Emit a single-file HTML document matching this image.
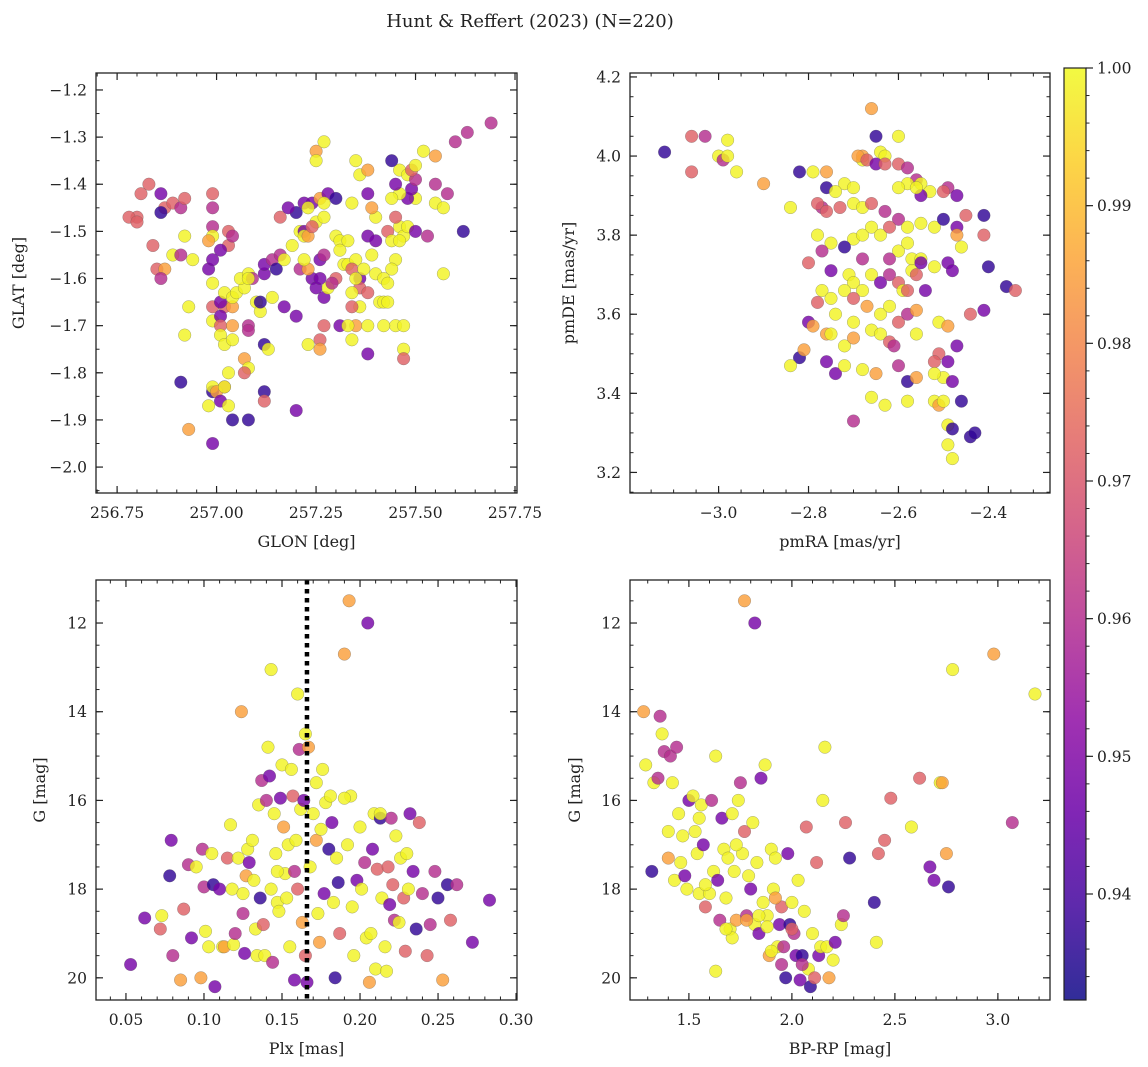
<!DOCTYPE html>
<html><head><meta charset="utf-8">
<style>
html,body{margin:0;padding:0;background:#fff;}
svg{display:block;font-family:"DejaVu Serif","Liberation Serif",serif;}
</style></head>
<body>
<svg id="fig" width="1148" height="1067" viewBox="0 0 1148 1067">
<text x="530" y="27" font-size="18" text-anchor="middle" fill="#222">Hunt &amp; Reffert (2023) (N=220)</text>
</svg>
<script>
// membership probability per colour class
const probClasses = {Y:0.999, O:0.985, P:0.972, M:0.960, V:0.948, D:0.937};
const cbMin = 0.9323, cbMax = 1.0;
const cbTicks = [0.94,0.95,0.96,0.97,0.98,0.99,1.00];

const p1Points = [[256.80,-1.47,'P'],[256.81,-1.42,'P'],[256.83,-1.40,'P'],[256.78,-1.47,'P'],[256.80,-1.48,'P'],[256.86,-1.42,'V'],[256.87,-1.45,'P'],[256.86,-1.46,'D'],[256.89,-1.44,'P'],[256.91,-1.45,'M'],[256.92,-1.43,'P'],[256.99,-1.42,'P'],[256.99,-1.45,'M'],[256.84,-1.53,'P'],[256.85,-1.58,'P'],[256.87,-1.58,'O'],[256.86,-1.60,'M'],[256.92,-1.51,'Y'],[256.89,-1.55,'Y'],[256.91,-1.55,'M'],[256.94,-1.56,'Y'],[256.99,-1.49,'M'],[256.99,-1.51,'Y'],[256.98,-1.52,'O'],[256.98,-1.58,'V'],[256.99,-1.56,'V'],[257.03,-1.50,'P'],[257.03,-1.53,'P'],[257.01,-1.54,'V'],[257.04,-1.51,'M'],[256.99,-1.61,'Y'],[256.93,-1.66,'Y'],[256.99,-1.66,'P'],[257.02,-1.66,'P'],[257.04,-1.66,'O'],[257.01,-1.65,'V'],[257.02,-1.63,'Y'],[257.04,-1.64,'Y'],[257.05,-1.63,'Y'],[257.07,-1.62,'Y'],[257.06,-1.60,'Y'],[257.08,-1.59,'Y'],[257.09,-1.60,'M'],[257.12,-1.59,'V'],[256.92,-1.72,'Y'],[256.99,-1.69,'Y'],[257.01,-1.68,'V'],[257.01,-1.70,'P'],[257.04,-1.70,'O'],[257.01,-1.72,'Y'],[257.02,-1.74,'Y'],[257.04,-1.73,'Y'],[257.10,-1.65,'Y'],[257.08,-1.70,'M'],[257.08,-1.71,'M'],[257.11,-1.67,'Y'],[257.11,-1.65,'D'],[257.12,-1.74,'D'],[257.14,-1.64,'Y'],[257.13,-1.75,'Y'],[257.07,-1.77,'O'],[257.08,-1.79,'Y'],[257.07,-1.80,'P'],[257.02,-1.83,'P'],[256.91,-1.82,'D'],[256.99,-1.84,'D'],[256.99,-1.83,'Y'],[257.00,-1.84,'O'],[257.01,-1.86,'V'],[257.02,-1.83,'Y'],[257.03,-1.87,'Y'],[257.03,-1.80,'Y'],[257.12,-1.84,'D'],[257.12,-1.86,'P'],[257.20,-1.88,'V'],[257.04,-1.90,'D'],[257.08,-1.90,'D'],[256.93,-1.92,'O'],[256.99,-1.95,'V'],[256.98,-1.87,'Y'],
[257.08,-1.60,'Y'],[257.12,-1.57,'V'],[257.14,-1.56,'M'],[257.16,-1.55,'M'],[257.15,-1.58,'D'],[257.17,-1.56,'Y'],[257.19,-1.53,'Y'],[257.21,-1.50,'Y'],[257.20,-1.46,'D'],[257.16,-1.47,'P'],[257.18,-1.45,'V'],[257.22,-1.44,'V'],[257.24,-1.44,'V'],[257.23,-1.45,'Y'],[257.26,-1.43,'O'],[257.28,-1.42,'V'],[257.27,-1.44,'Y'],[257.30,-1.43,'D'],[257.25,-1.48,'Y'],[257.27,-1.47,'Y'],[257.22,-1.50,'V'],[257.22,-1.51,'Y'],[257.23,-1.51,'O'],[257.24,-1.49,'P'],[257.21,-1.58,'M'],[257.24,-1.60,'V'],[257.26,-1.56,'V'],[257.27,-1.55,'M'],[257.30,-1.51,'Y'],[257.31,-1.52,'Y'],[257.31,-1.54,'Y'],[257.33,-1.52,'Y'],[257.32,-1.57,'Y'],[257.23,-1.58,'O'],[257.22,-1.56,'Y'],[257.25,-1.62,'V'],[257.26,-1.60,'V'],[257.27,-1.64,'V'],[257.28,-1.62,'Y'],[257.30,-1.60,'P'],[257.29,-1.61,'M'],[257.33,-1.57,'Y'],[257.35,-1.56,'Y'],[257.34,-1.58,'P'],[257.36,-1.60,'V'],[257.37,-1.58,'Y'],[257.36,-1.62,'P'],[257.38,-1.63,'P'],[257.36,-1.66,'Y'],[257.34,-1.63,'Y'],[257.34,-1.66,'P'],[257.31,-1.70,'V'],[257.35,-1.70,'O'],[257.33,-1.70,'Y'],[257.38,-1.70,'Y'],[257.41,-1.65,'Y'],[257.42,-1.65,'Y'],[257.43,-1.65,'Y'],[257.45,-1.70,'Y'],[257.42,-1.70,'Y'],[257.47,-1.70,'Y'],[257.47,-1.75,'Y'],[257.38,-1.76,'V'],[257.27,-1.70,'P'],[257.26,-1.73,'P'],[257.26,-1.75,'O'],[257.20,-1.68,'V'],[257.17,-1.66,'V'],[257.23,-1.74,'Y'],[257.47,-1.77,'P'],[257.34,-1.73,'Y'],[257.35,-1.60,'Y'],[257.40,-1.59,'Y'],[257.39,-1.55,'Y'],[257.38,-1.51,'V'],[257.40,-1.52,'V'],[257.43,-1.50,'P'],[257.44,-1.52,'Y'],[257.46,-1.49,'Y'],[257.47,-1.51,'Y'],[257.48,-1.49,'Y'],[257.46,-1.52,'Y'],[257.45,-1.56,'Y'],[257.44,-1.58,'Y'],[257.50,-1.50,'V'],[257.53,-1.51,'M'],[257.55,-1.44,'Y'],[257.50,-1.43,'Y'],[257.48,-1.43,'V'],[257.46,-1.42,'Y'],[257.45,-1.47,'P'],[257.40,-1.47,'Y'],[257.39,-1.45,'O'],[257.38,-1.42,'V'],[257.36,-1.38,'Y'],[257.35,-1.35,'Y'],[257.38,-1.37,'O'],[257.45,-1.40,'V'],[257.46,-1.37,'Y'],[257.48,-1.38,'Y'],[257.49,-1.41,'V'],[257.50,-1.39,'M'],[257.52,-1.33,'Y'],[257.55,-1.34,'O'],[257.55,-1.40,'M'],[257.57,-1.45,'Y'],[257.58,-1.42,'M'],[257.62,-1.50,'D'],[257.60,-1.31,'M'],[257.63,-1.29,'M'],[257.69,-1.27,'M'],[257.44,-1.35,'D'],[257.49,-1.37,'P'],[257.50,-1.36,'Y'],[257.44,-1.43,'Y'],[257.57,-1.59,'Y'],[257.42,-1.60,'Y'],[257.43,-1.61,'Y'],[257.25,-1.33,'O'],[257.27,-1.31,'Y'],[257.25,-1.35,'Y'],[257.34,-1.44,'Y']];

const p2Points = [[-3.12,4.01,'D'],[-3.06,4.05,'P'],[-3.03,4.05,'M'],[-3.06,3.96,'P'],[-3.00,4.00,'Y'],[-2.99,3.99,'M'],[-2.98,4.04,'Y'],[-2.98,4.00,'Y'],[-2.96,3.96,'Y'],[-2.90,3.93,'O'],[-2.82,3.96,'D'],[-2.79,3.96,'Y'],[-2.76,3.96,'O'],[-2.76,3.92,'D'],[-2.84,3.87,'Y'],[-2.68,3.99,'Y'],[-2.68,4.00,'O'],[-2.66,4.12,'O'],[-2.65,4.05,'D'],[-2.64,4.01,'Y'],[-2.63,4.00,'Y'],[-2.69,4.00,'O'],[-2.67,3.99,'P'],[-2.60,4.05,'Y'],[-2.65,3.98,'V'],[-2.63,3.98,'P'],[-2.60,3.98,'P'],[-2.58,3.97,'M'],[-2.56,3.94,'M'],[-2.55,3.93,'Y'],[-2.53,3.91,'Y'],[-2.49,3.92,'M'],[-2.47,3.90,'V'],[-2.50,3.91,'P'],[-2.55,3.90,'V'],[-2.58,3.93,'Y'],[-2.56,3.92,'Y'],[-2.60,3.92,'Y'],[-2.72,3.93,'Y'],[-2.70,3.92,'Y'],[-2.74,3.91,'Y'],[-2.77,3.87,'M'],[-2.78,3.88,'P'],[-2.76,3.86,'P'],[-2.73,3.87,'P'],[-2.70,3.88,'Y'],[-2.68,3.87,'Y'],[-2.66,3.88,'P'],[-2.63,3.86,'M'],[-2.60,3.84,'M'],[-2.58,3.82,'Y'],[-2.55,3.83,'Y'],[-2.52,3.82,'Y'],[-2.50,3.84,'D'],[-2.47,3.82,'V'],[-2.45,3.85,'P'],[-2.41,3.85,'D'],[-2.41,3.80,'P'],[-2.47,3.80,'O'],[-2.46,3.77,'Y'],[-2.40,3.72,'D'],[-2.49,3.73,'V'],[-2.48,3.71,'V'],[-2.41,3.61,'V'],[-2.44,3.60,'P'],[-2.36,3.67,'D'],[-2.34,3.66,'P'],[-2.78,3.80,'Y'],[-2.75,3.78,'Y'],[-2.70,3.79,'Y'],[-2.68,3.80,'Y'],[-2.66,3.82,'Y'],[-2.64,3.80,'Y'],[-2.62,3.82,'P'],[-2.60,3.76,'Y'],[-2.58,3.78,'Y'],[-2.57,3.74,'Y'],[-2.55,3.74,'Y'],[-2.57,3.71,'Y'],[-2.55,3.73,'V'],[-2.62,3.74,'M'],[-2.68,3.74,'M'],[-2.72,3.77,'D'],[-2.77,3.76,'M'],[-2.80,3.73,'P'],[-2.75,3.71,'V'],[-2.71,3.70,'Y'],[-2.70,3.68,'Y'],[-2.68,3.66,'Y'],[-2.66,3.70,'Y'],[-2.64,3.68,'V'],[-2.62,3.70,'M'],[-2.60,3.68,'P'],[-2.59,3.66,'Y'],[-2.58,3.66,'P'],[-2.56,3.70,'P'],[-2.52,3.72,'Y'],[-2.54,3.66,'V'],[-2.77,3.66,'Y'],[-2.75,3.64,'Y'],[-2.72,3.66,'Y'],[-2.70,3.64,'P'],[-2.67,3.62,'O'],[-2.64,3.60,'Y'],[-2.62,3.62,'Y'],[-2.60,3.58,'P'],[-2.58,3.60,'M'],[-2.56,3.61,'O'],[-2.78,3.63,'P'],[-2.74,3.60,'Y'],[-2.70,3.58,'Y'],[-2.66,3.56,'Y'],[-2.64,3.55,'Y'],[-2.62,3.53,'P'],[-2.61,3.52,'M'],[-2.56,3.55,'Y'],[-2.51,3.58,'Y'],[-2.49,3.57,'O'],[-2.47,3.52,'V'],[-2.51,3.50,'P'],[-2.52,3.48,'P'],[-2.49,3.48,'V'],[-2.80,3.58,'V'],[-2.79,3.57,'O'],[-2.76,3.55,'O'],[-2.75,3.55,'Y'],[-2.72,3.52,'Y'],[-2.70,3.54,'O'],[-2.82,3.49,'D'],[-2.81,3.51,'O'],[-2.76,3.48,'V'],[-2.74,3.45,'V'],[-2.72,3.47,'Y'],[-2.68,3.46,'Y'],[-2.65,3.45,'O'],[-2.60,3.47,'M'],[-2.58,3.43,'D'],[-2.56,3.44,'O'],[-2.50,3.44,'Y'],[-2.48,3.43,'V'],[-2.52,3.45,'Y'],[-2.70,3.33,'M'],[-2.66,3.39,'Y'],[-2.63,3.37,'Y'],[-2.58,3.38,'Y'],[-2.52,3.38,'Y'],[-2.51,3.37,'O'],[-2.50,3.38,'Y'],[-2.46,3.38,'D'],[-2.49,3.32,'Y'],[-2.48,3.31,'D'],[-2.44,3.29,'D'],[-2.43,3.30,'D'],[-2.49,3.27,'Y'],[-2.48,3.235,'Y'],[-2.84,3.47,'Y']];

const p3Points = [[0.053,19.7,'V'],[0.062,18.65,'V'],[0.072,18.9,'P'],[0.073,18.6,'Y'],[0.078,17.7,'D'],[0.079,16.9,'V'],[0.080,19.5,'M'],[0.085,20.05,'O'],[0.087,18.45,'P'],[0.090,17.45,'M'],[0.092,19.1,'V'],[0.095,17.5,'Y'],[0.098,20.0,'O'],[0.099,17.1,'M'],[0.100,17.95,'M'],[0.101,18.95,'Y'],[0.103,19.3,'Y'],[0.105,17.2,'Y'],[0.106,17.9,'D'],[0.107,20.2,'V'],[0.110,18.0,'V'],[0.112,19.3,'Y'],[0.113,19.3,'O'],[0.115,17.3,'P'],[0.117,16.55,'Y'],[0.118,18.0,'Y'],[0.119,19.25,'Y'],[0.120,19.0,'M'],[0.122,17.3,'Y'],[0.124,14.0,'O'],[0.125,18.55,'M'],[0.126,19.45,'V'],[0.127,17.7,'O'],[0.128,17.1,'Y'],[0.129,17.4,'V'],[0.131,16.9,'Y'],[0.132,17.8,'Y'],[0.133,18.9,'Y'],[0.134,19.5,'Y'],[0.135,16.1,'Y'],[0.136,18.2,'D'],[0.137,15.55,'M'],[0.138,18.8,'P'],[0.139,19.5,'Y'],[0.140,16.0,'M'],[0.141,14.8,'Y'],[0.142,15.45,'V'],[0.143,13.05,'Y'],[0.144,19.65,'M'],[0.145,16.3,'Y'],[0.146,17.2,'Y'],[0.147,18.3,'Y'],[0.148,18.5,'Y'],[0.149,15.95,'V'],[0.150,15.2,'Y'],[0.151,16.6,'O'],[0.152,17.65,'Y'],[0.153,18.2,'Y'],[0.154,17.0,'Y'],[0.155,19.3,'Y'],[0.156,15.3,'Y'],[0.157,15.9,'P'],[0.158,17.6,'M'],[0.159,16.9,'Y'],[0.160,13.6,'Y'],[0.160,18.0,'P'],[0.161,14.85,'M'],[0.162,16.2,'Y'],[0.163,18.75,'O'],[0.164,16.0,'V'],[0.165,19.5,'P'],[0.166,20.1,'V'],[0.158,20.05,'V'],[0.165,14.5,'Y'],[0.167,14.8,'O'],[0.168,17.5,'Y'],[0.170,16.3,'Y'],[0.172,16.9,'O'],[0.173,18.55,'Y'],[0.174,19.2,'O'],[0.175,16.65,'Y'],[0.176,15.3,'Y'],[0.177,18.1,'V'],[0.178,16.05,'Y'],[0.180,17.1,'D'],[0.181,15.9,'Y'],[0.182,16.5,'V'],[0.183,18.3,'Y'],[0.184,20.0,'D'],[0.185,17.3,'Y'],[0.186,17.85,'D'],[0.187,19.0,'P'],[0.190,12.7,'O'],[0.192,17.0,'Y'],[0.193,11.5,'O'],[0.194,15.9,'Y'],[0.195,18.4,'Y'],[0.196,19.5,'Y'],[0.198,17.8,'V'],[0.200,16.6,'Y'],[0.201,18.0,'Y'],[0.203,17.4,'M'],[0.204,19.1,'Y'],[0.205,12.0,'V'],[0.206,20.1,'O'],[0.207,19.0,'Y'],[0.208,17.1,'V'],[0.209,16.3,'Y'],[0.210,19.8,'Y'],[0.211,17.55,'P'],[0.213,16.4,'D'],[0.214,18.2,'Y'],[0.216,19.3,'Y'],[0.217,19.85,'Y'],[0.218,17.5,'P'],[0.219,18.35,'V'],[0.220,16.4,'M'],[0.221,17.9,'P'],[0.222,18.7,'M'],[0.223,16.8,'Y'],[0.225,18.75,'Y'],[0.226,17.3,'Y'],[0.228,18.2,'P'],[0.229,19.4,'P'],[0.230,17.2,'Y'],[0.231,18.0,'Y'],[0.232,16.3,'V'],[0.234,17.6,'V'],[0.236,18.9,'D'],[0.238,16.5,'P'],[0.240,18.1,'M'],[0.243,19.5,'P'],[0.245,18.8,'M'],[0.248,17.6,'M'],[0.250,18.2,'D'],[0.253,20.05,'O'],[0.256,17.9,'D'],[0.258,18.7,'P'],[0.262,17.9,'M'],[0.272,19.2,'V'],[0.283,18.25,'V'],[0.213,16.3,'Y'],[0.172,15.6,'Y'],[0.147,17.6,'Y'],[0.143,18.0,'Y'],[0.125,18.1,'Y'],[0.190,15.95,'Y']];

const p4Points = [[1.28,14.0,'O'],[1.29,15.2,'Y'],[1.32,17.6,'D'],[1.33,15.6,'Y'],[1.35,15.5,'M'],[1.36,14.1,'M'],[1.37,14.5,'Y'],[1.38,14.9,'M'],[1.40,17.3,'O'],[1.40,16.7,'Y'],[1.41,15.0,'M'],[1.42,15.6,'Y'],[1.43,17.8,'Y'],[1.44,14.8,'M'],[1.45,16.3,'Y'],[1.46,17.4,'Y'],[1.47,16.8,'Y'],[1.48,17.7,'V'],[1.49,18.0,'Y'],[1.50,16.0,'V'],[1.52,15.9,'Y'],[1.53,16.7,'Y'],[1.54,17.2,'Y'],[1.55,18.1,'Y'],[1.56,16.1,'Y'],[1.57,17.0,'V'],[1.58,18.4,'P'],[1.60,18.1,'Y'],[1.61,16.0,'M'],[1.62,17.6,'Y'],[1.63,15.0,'Y'],[1.63,19.85,'Y'],[1.64,17.8,'V'],[1.65,18.7,'M'],[1.66,16.4,'V'],[1.67,17.1,'Y'],[1.68,18.2,'Y'],[1.69,17.3,'Y'],[1.70,18.9,'Y'],[1.71,16.3,'Y'],[1.72,17.6,'Y'],[1.73,18.7,'O'],[1.74,16.0,'Y'],[1.75,15.6,'M'],[1.76,17.2,'Y'],[1.77,11.5,'O'],[1.77,16.7,'P'],[1.78,18.6,'M'],[1.79,17.7,'Y'],[1.80,18.0,'V'],[1.81,16.5,'Y'],[1.82,12.0,'V'],[1.82,18.8,'Y'],[1.83,17.4,'Y'],[1.84,19.0,'V'],[1.85,15.5,'V'],[1.86,18.3,'Y'],[1.87,15.2,'Y'],[1.88,18.6,'Y'],[1.89,19.5,'O'],[1.90,17.1,'Y'],[1.91,18.0,'Y'],[1.92,17.3,'Y'],[1.93,19.3,'Y'],[1.94,18.8,'V'],[1.95,18.4,'P'],[1.96,19.3,'M'],[1.97,20.0,'D'],[1.98,17.2,'V'],[1.99,18.8,'D'],[2.00,18.3,'Y'],[2.01,19.0,'M'],[2.02,19.5,'V'],[2.03,17.8,'Y'],[2.04,20.05,'V'],[2.05,19.5,'D'],[2.06,18.5,'Y'],[2.07,16.6,'P'],[2.08,19.8,'Y'],[2.09,20.2,'D'],[2.10,19.0,'Y'],[2.11,20.0,'P'],[2.12,17.4,'P'],[2.13,19.5,'V'],[2.14,19.3,'Y'],[2.15,16.0,'Y'],[2.16,14.8,'Y'],[2.17,19.3,'Y'],[2.18,20.0,'O'],[2.20,19.6,'Y'],[2.21,19.2,'V'],[2.24,18.8,'Y'],[2.25,18.6,'M'],[2.26,16.5,'P'],[2.28,17.3,'D'],[2.40,18.3,'D'],[2.41,19.2,'Y'],[2.42,17.2,'P'],[2.45,16.9,'P'],[2.48,15.95,'P'],[2.58,16.6,'Y'],[2.62,15.5,'P'],[2.67,17.5,'V'],[2.69,17.8,'V'],[2.72,15.6,'Y'],[2.73,15.6,'O'],[2.75,17.2,'O'],[2.76,17.95,'D'],[2.78,13.05,'Y'],[2.98,12.7,'O'],[3.07,16.5,'M'],[3.18,13.6,'Y'],[1.71,19.1,'Y'],[1.88,18.85,'Y'],[1.92,18.2,'O'],[1.73,17.0,'Y'],[1.55,16.4,'Y'],[1.90,19.4,'Y'],[2.00,18.9,'P'],[1.95,19.7,'M'],[2.05,19.7,'M'],[1.68,18.9,'Y'],[1.58,17.9,'Y'],[1.78,18.7,'O'],[1.84,18.6,'Y']];

const p1XTicks = [256.75,257.00,257.25,257.50,257.75];
const p1YTicks = [-1.2,-1.3,-1.4,-1.5,-1.6,-1.7,-1.8,-1.9,-2.0];
const p2XTicks = [-3.0,-2.8,-2.6,-2.4];
const p2YTicks = [3.2,3.4,3.6,3.8,4.0,4.2];
const p3XTicks = [0.05,0.10,0.15,0.20,0.25,0.30];
const gTicks = [12,14,16,18,20];
const p4XTicks = [1.5,2.0,2.5,3.0];
const plxLine = 0.166;

const NS='http://www.w3.org/2000/svg';
const svg=document.getElementById('fig');
function mk(tag,attrs,parent){const e=document.createElementNS(NS,tag);for(const k in attrs)e.setAttribute(k,attrs[k]);(parent||svg).appendChild(e);return e;}

const plasma=[[13,8,135],[65,4,157],[106,0,168],[143,13,164],[177,42,144],[204,71,120],[225,100,98],[242,132,75],[252,166,54],[252,206,37],[240,249,33]];
function cmap(t){t=Math.max(0,Math.min(1,t));const f=t*10,i=Math.min(9,Math.floor(f)),r=f-i;const a=plasma[i],b=plasma[i+1];return 'rgb('+[0,1,2].map(k=>Math.round(a[k]+(b[k]-a[k])*r)).join(',')+')';}
function colorOf(p){return cmap((p-cbMin)/(cbMax-cbMin));}

function fmt(v,d){return (v<0?'\u2212':'')+Math.abs(v).toFixed(d);}

function panel(o){
  const g=mk('g',{});
  
  
  const sx=v=>o.L+(v-o.x0)/(o.x1-o.x0)*(o.R-o.L);
  const sy=v=>o.B-(v-o.y0)/(o.y1-o.y0)*(o.B-o.T);
  const clipId='clip-'+o.name;
  const cp=mk('clipPath',{id:clipId},g);mk('rect',{x:o.L,y:o.T,width:o.R-o.L,height:o.B-o.T},cp);
  const pts=mk('g',{'clip-path':'url(#'+clipId+')'},g);
  
  
  o.points.forEach(p=>{
    const c=mk('circle',{cx:sx(p[0]).toFixed(1),cy:sy(p[1]).toFixed(1),r:6.3,fill:colorOf(probClasses[p[2]]),'fill-opacity':0.82,stroke:'#555','stroke-opacity':0.5,'stroke-width':0.5},pts);
    
    
  });
  if(o.vline!==undefined){
    const l=mk('line',{x1:sx(o.vline),x2:sx(o.vline),y1:o.T,y2:o.B,stroke:'#000','stroke-width':4.5,'stroke-dasharray':'4.5,4.5'},g);
    
    
  }
  const fr=mk('rect',{x:o.L,y:o.T,width:o.R-o.L,height:o.B-o.T,fill:'none',stroke:'#222','stroke-width':1.3},g);
  
  
  // minor ticks
  const lo=Math.min(o.x0,o.x1),hi=Math.max(o.x0,o.x1);
  for(let v=Math.ceil(lo/o.xm-1e-9)*o.xm;v<=hi+1e-9;v+=o.xm){const x=sx(v);mk('line',{x1:x,x2:x,y1:o.B,y2:o.B-3.5,stroke:'#222','stroke-width':1},g);mk('line',{x1:x,x2:x,y1:o.T,y2:o.T+3.5,stroke:'#222','stroke-width':1},g);}
  const ylo=Math.min(o.y0,o.y1),yhi=Math.max(o.y0,o.y1);
  for(let v=Math.ceil(ylo/o.ym-1e-9)*o.ym;v<=yhi+1e-9;v+=o.ym){const y=sy(v);mk('line',{x1:o.L,x2:o.L+3.5,y1:y,y2:y,stroke:'#222','stroke-width':1},g);mk('line',{x1:o.R,x2:o.R-3.5,y1:y,y2:y,stroke:'#222','stroke-width':1},g);}
  o.xt.forEach(v=>{const x=sx(v);mk('line',{x1:x,x2:x,y1:o.B,y2:o.B-7,stroke:'#222','stroke-width':1.2},g);mk('line',{x1:x,x2:x,y1:o.T,y2:o.T+7,stroke:'#222','stroke-width':1.2},g);
    const t=mk('text',{x:x,y:o.B+25,'font-size':15.5,'text-anchor':'middle',fill:'#222'},g);t.textContent=fmt(v,o.xd);
    });
  o.yt.forEach(v=>{const y=sy(v);mk('line',{x1:o.L,x2:o.L+7,y1:y,y2:y,stroke:'#222','stroke-width':1.2},g);mk('line',{x1:o.R,x2:o.R-7,y1:y,y2:y,stroke:'#222','stroke-width':1.2},g);
    const t=mk('text',{x:o.L-9,y:y+5.5,'font-size':15.5,'text-anchor':'end',fill:'#222'},g);t.textContent=fmt(v,o.yd);
    });
  const xl=mk('text',{x:(o.L+o.R)/2,y:o.B+54,'font-size':16,'text-anchor':'middle',fill:'#222'},g);xl.textContent=o.xlab;
  
  const yl=mk('text',{x:o.ylx,y:(o.T+o.B)/2,'font-size':16,'text-anchor':'middle',fill:'#222',transform:'rotate(-90 '+o.ylx+' '+(o.T+o.B)/2+')'},g);yl.textContent=o.ylab;
  
}

panel({name:'glon-glat-panel',L:96,R:517,T:73,B:493,x0:256.697,x1:257.755,y0:-2.055,y1:-1.164,points:p1Points,xt:p1XTicks,yt:p1YTicks,xd:2,yd:1,xm:0.05,ym:0.05,xlab:'GLON [deg]',ylab:'GLAT [deg]',ylx:24});
panel({name:'proper-motion-panel',L:630,R:1050,T:73,B:493,x0:-3.197,x1:-2.263,y0:3.148,y1:4.21,points:p2Points,xt:p2XTicks,yt:p2YTicks,xd:1,yd:1,xm:0.05,ym:0.05,xlab:'pmRA [mas/yr]',ylab:'pmDE [mas/yr]',ylx:574});
panel({name:'parallax-magnitude-panel',L:96,R:517,T:580,B:1000,x0:0.0308,x1:0.3006,y0:20.5,y1:11.03,points:p3Points,xt:p3XTicks,yt:gTicks,xd:2,yd:0,xm:0.01,ym:0.5,xlab:'Plx [mas]',ylab:'G [mag]',ylx:45,vline:plxLine});
panel({name:'color-magnitude-panel',L:630,R:1050,T:580,B:1000,x0:1.214,x1:3.253,y0:20.5,y1:11.03,points:p4Points,xt:p4XTicks,yt:gTicks,xd:1,yd:0,xm:0.1,ym:0.5,xlab:'BP-RP [mag]',ylab:'G [mag]',ylx:580});

// colorbar
const cb=mk('g',{});


const defs=mk('defs',{},cb);
const lg=mk('linearGradient',{id:'plasmaGrad',x1:0,y1:1,x2:0,y2:0},defs);
plasma.forEach((c,i)=>mk('stop',{offset:(i/10),'stop-color':'rgb('+c.join(',')+')','stop-opacity':0.85},lg));
const CL=1064,CR=1086,CT=68,CB=1000;
const cy=v=>CB-(v-cbMin)/(cbMax-cbMin)*(CB-CT);
mk('rect',{x:CL,y:CT,width:CR-CL,height:CB-CT,fill:'url(#plasmaGrad)',stroke:'#222','stroke-width':1.2},cb);
for(let v=0.934;v<=1.0001;v+=0.002){const y=cy(v);mk('line',{x1:CR,x2:CR+3.5,y1:y,y2:y,stroke:'#222','stroke-width':1},cb);}
cbTicks.forEach(v=>{const y=cy(v);mk('line',{x1:CR,x2:CR+7,y1:y,y2:y,stroke:'#222','stroke-width':1.2},cb);
  const t=mk('text',{x:CR+11,y:y+5.5,'font-size':15.5,fill:'#222'},cb);t.textContent=v.toFixed(2);
  });
</script>
</body></html>
